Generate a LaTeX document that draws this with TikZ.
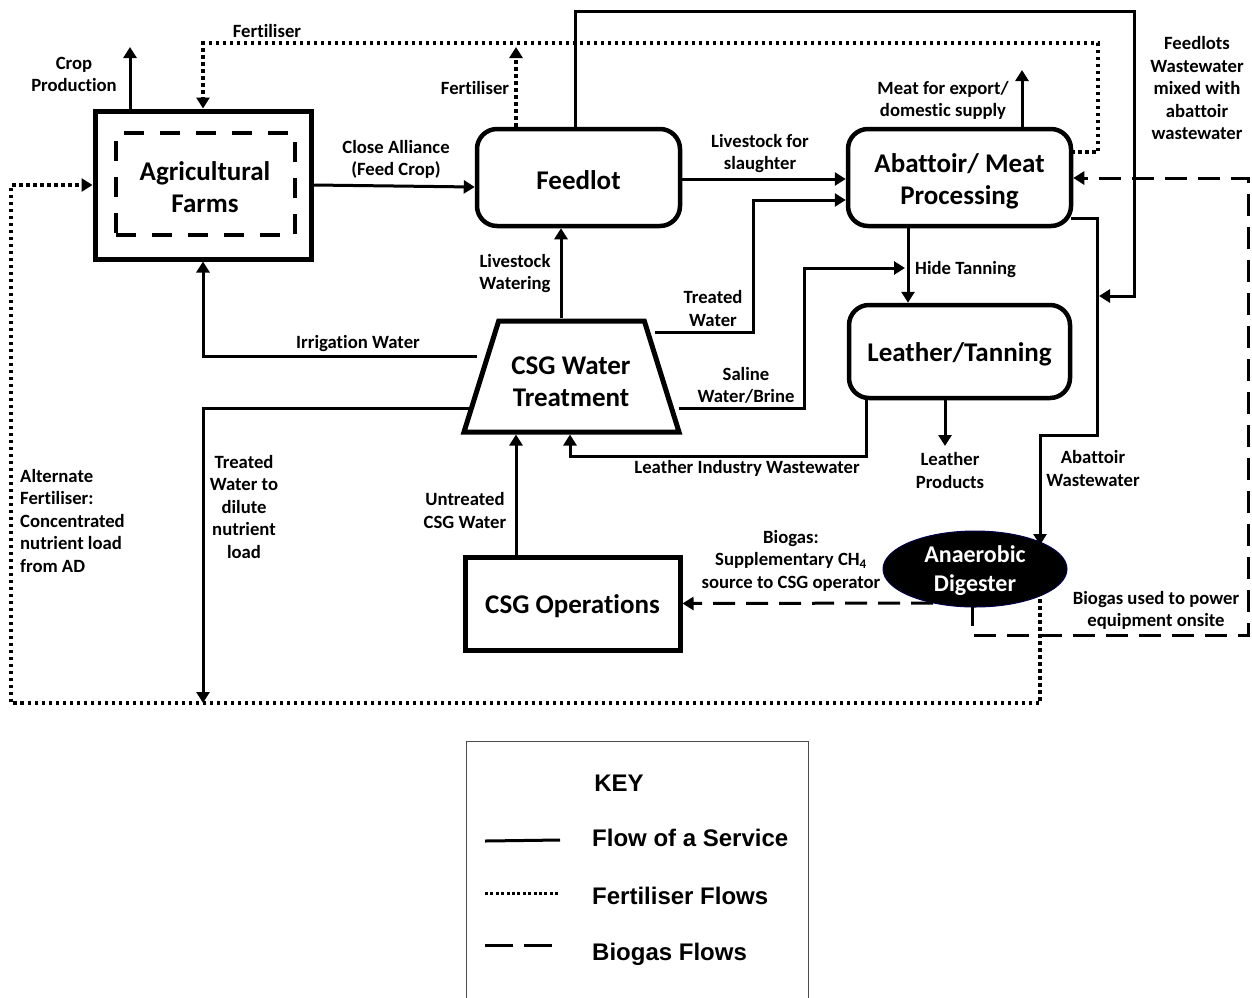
\documentclass[tikz,border=0pt]{standalone}
\usepackage{fontspec}
\setmainfont{Carlito}[Ligatures=NoCommon]
\newfontfamily\keyfont{Liberation Sans}
\usetikzlibrary{arrows.meta,shapes.geometric}
\tikzset{
  tip/.style={-{Triangle[length=11pt,width=13pt]}},
  flow/.style={line width=3pt, tip},
  fert/.style={line width=3.5pt, dash pattern=on 3.5pt off 3.5pt},
  gas/.style={line width=3pt, dash pattern=on 22pt off 11pt},
  bigtext/.style={font=\bfseries\fontsize{27}{32}\selectfont, align=center},
  lbl/.style={font=\bfseries\fontsize{18.7}{22.5}\selectfont, align=center, inner sep=0pt, yshift=-1.5pt},
  sqbox/.style={draw, line width=5pt},
  rbox/.style={draw, line width=4.5pt, rounded corners=20pt},
  keytxt/.style={font=\keyfont\bfseries\fontsize{24}{28}\selectfont, anchor=west, inner sep=0pt}
}
\begin{document}
\begin{tikzpicture}[x=1pt,y=-1pt]
\useasboundingbox (0,0) rectangle (1252,997);
% ---- nodes
\node[sqbox, minimum width=216pt, minimum height=148pt] (farms) at (203,185) {};
\node[draw, line width=4.5pt, dash pattern=on 20pt off 16pt, minimum width=179pt, minimum height=102pt] (farmsin) at (205.5,184) {};
\node[bigtext] (farmstxt) at (205,187) {Agricultural\\Farms};
\node[rbox, minimum width=203pt, minimum height=97pt] (feedlot) at (578.5,177.5) {};
\node[bigtext] (feedlottxt) at (578.5,180) {Feedlot};
\node[rbox, minimum width=223pt, minimum height=97pt] (abattoir) at (959.5,177.5) {};
\node[bigtext] (abattoirtxt) at (959.5,181.5) {Abattoir/ Meat\\Processing};
\node[rbox, minimum width=221pt, minimum height=93pt] (leather) at (959.5,351.5) {};
\node[bigtext] (leathertxt) at (959.5,354) {Leather/Tanning};
\node[draw, line width=5pt, trapezium, trapezium stretches=true, trapezium angle=76.6, minimum width=215pt, minimum height=111pt] (csgwt) at (571.5,376.5) {};
\node[bigtext] (csgwttext) at (571,382) {CSG Water\\Treatment};
\node[sqbox, minimum width=215pt, minimum height=93pt] (csgops) at (572.5,603.5) {};
\node[bigtext] (csgopstxt) at (572.5,606) {CSG Operations};
\node[ellipse, fill=black, draw=black!70!blue, line width=1pt, minimum width=184pt, minimum height=76pt] (ad) at (975,569) {};
\node[text=white, font=\bfseries\fontsize{24}{29}\selectfont, align=center, inner sep=0pt] (adtxt) at (975,571) {Anaerobic\\Digester};

% ---- coordinates
\coordinate (cropend) at (130,47);
\coordinate (meatend) at (1022,70);
\coordinate (fdfert) at (516,47);
\coordinate (abfert) at (1071,152);
\coordinate (csgirr) at (477,356);
\coordinate (csgdil) at (470,408);
\coordinate (dilend) at (203,703);
\coordinate (csgtw) at (655,332);
\coordinate (csgbr) at (679,408);
\coordinate (htend) at (905,268);
\coordinate (abww) at (1071,218);
\coordinate (adin) at (1040,545);
\coordinate (adgas) at (933,603);
\coordinate (adpow) at (972,604);
\coordinate (adfert) at (1040,592);
\coordinate (lpend) at (945,446);

% ---- connectors
\draw[flow] (farms.north -| cropend) -- (cropend);
\draw[fert, tip] (abfert) -- (1098,152) -- (1098,43) -- (203,43) -- (farms.north);
\draw[fert, tip] (feedlot.north -| fdfert) -- (fdfert);
\draw[flow] (farms.east) -- (feedlot.west |- 0,187);
\draw[flow] (feedlot.north -| 575,0) -- (575,11) -- (1134,11) -- (1134,296) -- (1099,296);
\draw[flow] (feedlot.east |- 0,179) -- (abattoir.west |- 0,179);
\draw[flow] (abattoir.north -| meatend) -- (meatend);
\draw[flow] (csgtw) -- (753,332) -- (753,200) -- (abattoir.west |- 0,200);
\draw[flow] (csgwt.north -| 561,0) -- (feedlot.south -| 561,0);
\draw[flow] (csgirr) -- (203,356) -- (farms.south);
\draw[flow] (csgdil) -- (203,408) -- (dilend);
\draw[flow] (csgbr) -- (804,408) -- (804,268) -- (htend);
\draw[flow] (abattoir.south -| 908,0) -- (leather.north -| 908,0);
\draw[flow] (leather.south -| 866,0) -- (866,456) -- (570,456) -- (csgwt.south -| 570,0);
\draw[flow] (csgops.north -| 516,0) -- (csgwt.south -| 516,0);
\draw[flow] (leather.south -| lpend) -- (lpend);
\draw[flow] (abww) -- (1097,218) -- (1097,435) -- (1040,435) -- (adin);
\draw[gas, tip] (adgas) -- (csgops.east);
\draw[gas, tip] (adpow) -- (972,635) -- (1248,635) -- (1248,178) -- (abattoir.east |- 0,178);
\draw[fert, tip] (adfert) -- (1040,703) -- (11,703) -- (11,185) -- (farms.west);

% ---- labels
\node[lbl] (l1) at (74,73) {Crop\\Production};
\node[lbl] (l2) at (267,30) {Fertiliser};
\node[lbl] (l3) at (475,87) {Fertiliser};
\node[lbl] (l4) at (396,158) {Close Alliance\\(Feed Crop)};
\node[lbl] (l5) at (760,152) {Livestock for\\slaughter};
\node[lbl] (l6) at (943,99) {Meat for export/\\domestic supply};
\node[lbl] (l7) at (1197,87) {Feedlots\\Wastewater\\mixed with\\abattoir\\wastewater};
\node[lbl] (l8) at (515,272) {Livestock\\Watering};
\node[lbl] (l9) at (713,307) {Treated\\Water};
\node[lbl] (l10) at (358,342) {Irrigation Water};
\node[lbl] (l11) at (746,384) {Saline\\Water/Brine};
\node[lbl, anchor=west] (l12) at (915,268) {Hide Tanning};
\node[lbl] (l13) at (747,467) {Leather Industry Wastewater};
\node[lbl] (l14) at (950,469) {Leather\\Products};
\node[lbl] (l15) at (1093,467) {Abattoir\\Wastewater};
\node[lbl] (l16) at (465,509) {Untreated\\CSG Water};
\node[lbl] (l17) at (791,559) {Biogas:\\Supplementary CH\textsubscript{4}\\source to CSG operator};
\node[lbl] (l18) at (1156,609) {Biogas used to power\\equipment onsite};
\node[lbl] (l19) at (244,505) {Treated\\Water to\\dilute\\nutrient\\load};
\node[lbl, align=left, anchor=west] (l20) at (20,519) {Alternate\\Fertiliser:\\Concentrated\\nutrient load\\from AD};

% ---- key
\node[draw=black!70, line width=1pt, minimum width=342pt, minimum height=257pt, inner sep=0pt] (key) at (637,869.5) {};
\node[keytxt, anchor=center] (keyt) at (619,783) {KEY};
\coordinate (k1a) at (485,841); \coordinate (k1b) at (560,840);
\coordinate (k2a) at (485,893); \coordinate (k2b) at (558,893);
\coordinate (k3a) at (485,945); \coordinate (k3b) at (560,945);
\draw[line width=3pt] (k1a) -- (k1b);
\draw[line width=3pt, dash pattern=on 3pt off 2.4pt] (k2a) -- (k2b);
\draw[line width=3pt, dash pattern=on 28pt off 11pt] (k3a) -- (k3b);
\node[keytxt] (kt1) at (592,838) {Flow of a Service};
\node[keytxt] (kt2) at (592,896) {Fertiliser Flows};
\node[keytxt] (kt3) at (592,954) {Biogas Flows};
\end{tikzpicture}
\end{document}
